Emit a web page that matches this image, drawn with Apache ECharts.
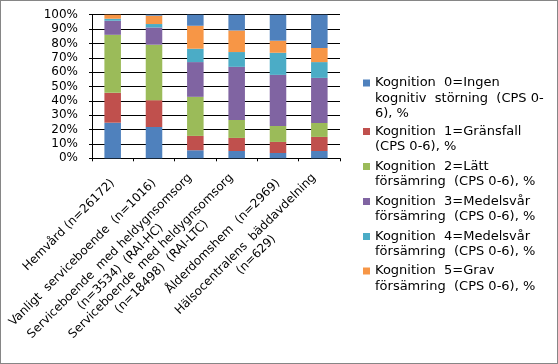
<!DOCTYPE html>
<html>
<head>
<meta charset="utf-8">
<script src="https://cdn.jsdelivr.net/npm/echarts@6/dist/echarts.min.js"></script>
<style>
html,body{margin:0;padding:0;background:#fff;}
#wrap{position:relative;width:558px;height:364px;}
#chart{position:absolute;left:0;top:0;width:558px;height:364px;}
#frame{position:absolute;left:0;top:0;width:558px;height:364px;box-sizing:border-box;border:1px solid #868686;pointer-events:none;}
</style>
</head>
<body>
<div id="wrap"><div id="chart"></div><div id="frame"></div></div>
<script>
// ---- data ----
var categories = [
  'Hemvård (n=26172)',
  'Vanligt  serviceboende  (n=1016)',
  'Serviceboende  med heldygnsomsorg\n(n=3534)  (RAI-HC)',
  'Serviceboende  med heldygnsomsorg\n(n=18498)  (RAI-LTC)',
  'Ålderdomshem  (n=2969)',
  'Hälsocentralens  bäddavdelning\n(n=629)'
];
var seriesNames = [
  'Kognition 0=Ingen kognitiv störning (CPS 0-6), %',
  'Kognition 1=Gränsfall (CPS 0-6), %',
  'Kognition 2=Lätt försämring (CPS 0-6), %',
  'Kognition 3=Medelsvår försämring (CPS 0-6), %',
  'Kognition 4=Medelsvår försämring (CPS 0-6), %',
  'Kognition 5=Grav försämring (CPS 0-6), %',
  'Kognition 6=Mycket grav försämring (CPS 0-6), %'
];
var legendLines = [
  ['Kognition  0=Ingen', 'kognitiv  störning  (CPS 0-', '6), %'],
  ['Kognition  1=Gränsfall', '(CPS 0-6), %'],
  ['Kognition  2=Lätt', 'försämring  (CPS 0-6), %'],
  ['Kognition  3=Medelsvår', 'försämring  (CPS 0-6), %'],
  ['Kognition  4=Medelsvår', 'försämring  (CPS 0-6), %'],
  ['Kognition  5=Grav', 'försämring  (CPS 0-6), %']
];
var k0 = [24.8, 21.8, 5.6, 5.1, 3.7, 5.1];
var k1 = [20.8, 18.7, 10.0, 9.1, 7.7, 9.8];
var k2 = [40.4, 38.6, 27.2, 12.5, 11.1, 9.7];
var k3 = [9.8, 12.0, 24.2, 37.0, 35.6, 31.4];
var k4 = [1.4, 2.4, 9.3, 10.3, 15.4, 11.0];
var k5 = [2.8, 5.8, 16.0, 15.0, 8.4, 9.8];
var k6 = [0.0, 0.7, 7.7, 11.0, 18.1, 23.2];
var yTicks = [0, 10, 20, 30, 40, 50, 60, 70, 80, 90, 100];

// ---- styles ----
var colors = ['#4F81BD', '#C0504D', '#9BBB59', '#8064A2', '#4BACC6', '#F79646', '#4F81BD'];
var FONT = 'DejaVu Sans';
var values = [k0, k1, k2, k3, k4, k5, k6];

var series = values.map(function (v, i) {
  return {
    name: seriesNames[i],
    type: 'bar',
    stack: 'total',
    barWidth: '40%',
    data: v,
    itemStyle: { color: colors[i] },
    emphasis: { disabled: true }
  };
});

var lineH = 15.2;
var legendCenters = [83, 131.5, 166.5, 201.5, 236.5, 271];
var legends = legendLines.map(function (lines, i) {
  var n = lines.length;
  var pad = [];
  for (var j = 0; j < n - 1; j++) pad.push('');
  var txt = pad.concat(lines).join('\n');
  return {
    show: true,
    orient: 'vertical',
    left: 363,
    top: legendCenters[i] - (2 * n - 1) * lineH / 2,
    padding: 0,
    itemWidth: 7,
    itemHeight: 7,
    icon: 'rect',
    selectedMode: false,
    data: [seriesNames[i]],
    formatter: function () { return txt; },
    textStyle: { fontFamily: FONT, fontSize: 13, lineHeight: lineH, color: '#000' }
  };
});

var chart = echarts.init(document.getElementById('chart'), null, { renderer: 'canvas' });
chart.setOption({
  animation: false,
  backgroundColor: 'transparent',
  legend: legends,
  grid: { left: 92, right: 218, top: 14.7, bottom: 205.7, containLabel: false },
  xAxis: {
    type: 'category',
    data: categories,
    boundaryGap: true,
    axisLine: { show: true, lineStyle: { color: '#000', width: 1 } },
    axisTick: { show: true, length: 3, alignWithLabel: false, lineStyle: { color: '#000' } },
    axisLabel: {
      interval: 0,
      rotate: 45,
      margin: 23,
      color: '#000',
      fontFamily: FONT,
      fontSize: 12,
      formatter: function (v) {
        return v.split('\n').map(function (l) { return '{c|' + l + '}'; }).join('\n');
      },
      rich: { c: { align: 'center', fontFamily: FONT, fontSize: 12, lineHeight: 15, color: '#000' } }
    }
  },
  yAxis: {
    type: 'value',
    min: yTicks[0],
    max: yTicks[yTicks.length - 1],
    interval: 10,
    axisLine: { show: true, lineStyle: { color: '#000', width: 1 } },
    axisTick: { show: true, length: 3, lineStyle: { color: '#000' } },
    splitLine: { show: true, lineStyle: { color: '#000', width: 1 } },
    axisLabel: { margin: 14, color: '#000', fontFamily: FONT, fontSize: 12, formatter: '{value}%' }
  },
  series: series
});
</script>
</body>
</html>
